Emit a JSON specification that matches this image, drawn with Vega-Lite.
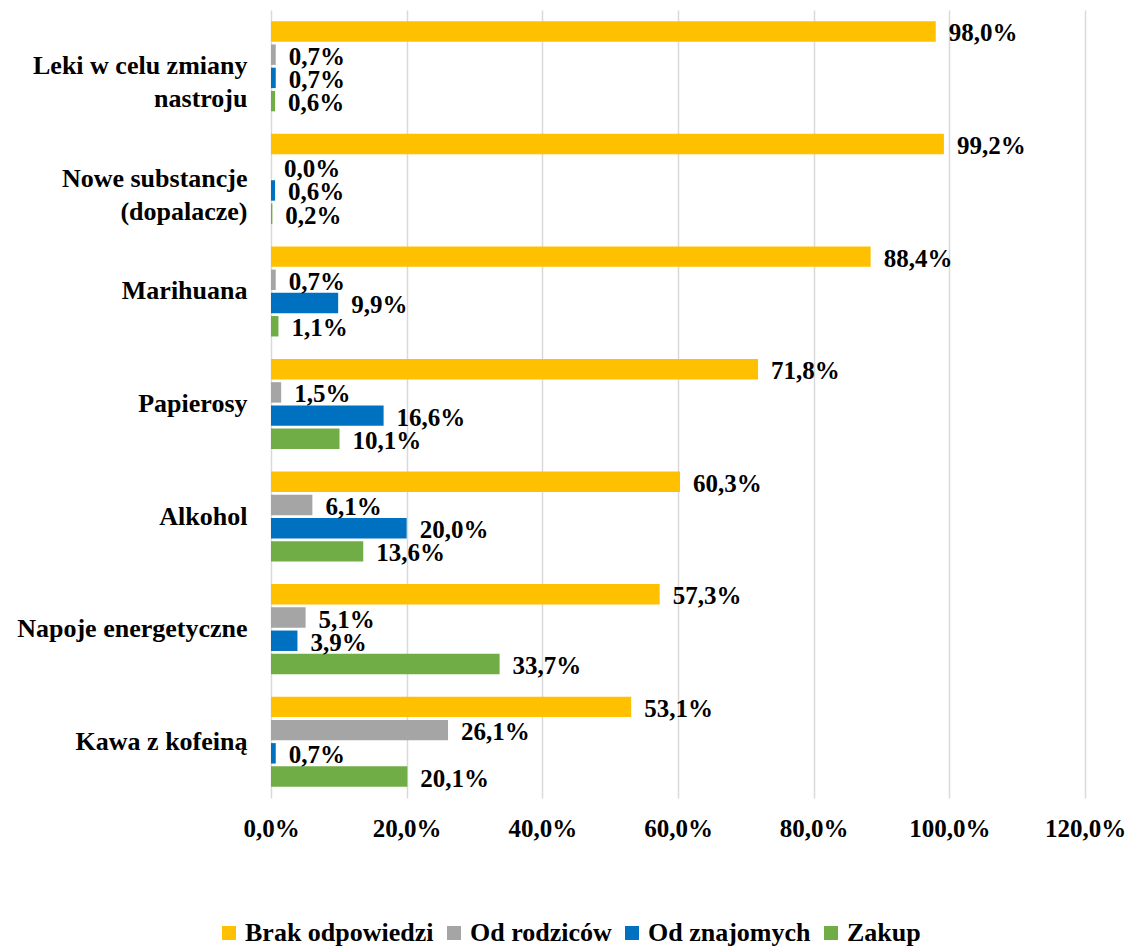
{
  "$schema": "https://vega.github.io/schema/vega-lite/v6.json",
  "autosize": "none",
  "width": 814,
  "height": 788,
  "padding": {"left": 271, "top": 10, "right": 42, "bottom": 148},
  "background": "white",
  "config": {
    "font": "Liberation Serif",
    "view": {"stroke": null},
    "axis": {"labelFont": "Liberation Serif", "labelFontWeight": "bold", "labelColor": "black", "labelFontSize": 25},
    "legend": {"labelFont": "Times New Roman, Liberation Serif, serif", "labelFontWeight": "bold", "labelColor": "black", "labelFontSize": 26}
  },
  "data": {
    "values": [
      {"cat": "Leki w celu zmiany|nastroju", "series": "Brak odpowiedzi", "v": 98.0},
      {"cat": "Leki w celu zmiany|nastroju", "series": "Od rodziców", "v": 0.7},
      {"cat": "Leki w celu zmiany|nastroju", "series": "Od znajomych", "v": 0.7},
      {"cat": "Leki w celu zmiany|nastroju", "series": "Zakup", "v": 0.6},
      {"cat": "Nowe substancje|(dopalacze)", "series": "Brak odpowiedzi", "v": 99.2},
      {"cat": "Nowe substancje|(dopalacze)", "series": "Od rodziców", "v": 0.0},
      {"cat": "Nowe substancje|(dopalacze)", "series": "Od znajomych", "v": 0.6},
      {"cat": "Nowe substancje|(dopalacze)", "series": "Zakup", "v": 0.2},
      {"cat": "Marihuana", "series": "Brak odpowiedzi", "v": 88.4},
      {"cat": "Marihuana", "series": "Od rodziców", "v": 0.7},
      {"cat": "Marihuana", "series": "Od znajomych", "v": 9.9},
      {"cat": "Marihuana", "series": "Zakup", "v": 1.1},
      {"cat": "Papierosy", "series": "Brak odpowiedzi", "v": 71.8},
      {"cat": "Papierosy", "series": "Od rodziców", "v": 1.5},
      {"cat": "Papierosy", "series": "Od znajomych", "v": 16.6},
      {"cat": "Papierosy", "series": "Zakup", "v": 10.1},
      {"cat": "Alkohol", "series": "Brak odpowiedzi", "v": 60.3},
      {"cat": "Alkohol", "series": "Od rodziców", "v": 6.1},
      {"cat": "Alkohol", "series": "Od znajomych", "v": 20.0},
      {"cat": "Alkohol", "series": "Zakup", "v": 13.6},
      {"cat": "Napoje energetyczne", "series": "Brak odpowiedzi", "v": 57.3},
      {"cat": "Napoje energetyczne", "series": "Od rodziców", "v": 5.1},
      {"cat": "Napoje energetyczne", "series": "Od znajomych", "v": 3.9},
      {"cat": "Napoje energetyczne", "series": "Zakup", "v": 33.7},
      {"cat": "Kawa z kofeiną", "series": "Brak odpowiedzi", "v": 53.1},
      {"cat": "Kawa z kofeiną", "series": "Od rodziców", "v": 26.1},
      {"cat": "Kawa z kofeiną", "series": "Od znajomych", "v": 0.7},
      {"cat": "Kawa z kofeiną", "series": "Zakup", "v": 20.1}
    ]
  },
  "transform": [
    {"calculate": "replace(format(datum.v, '.1f'), '.', ',') + '%'", "as": "lbl"}
  ],
  "encoding": {
    "y": {
      "field": "cat", "type": "nominal", "sort": null,
      "scale": {"paddingInner": 0.2, "paddingOuter": 0.1},
      "axis": {"title": null, "ticks": false, "domain": false, "labelPadding": 24, "labelExpr": "split(datum.value, '|')", "labelLineHeight": 33, "labelFontSize": 26, "labelLimit": 400}
    },
    "yOffset": {
      "field": "series", "type": "nominal",
      "sort": ["Brak odpowiedzi", "Od rodziców", "Od znajomych", "Zakup"],
      "scale": {"paddingInner": 0.12}
    },
    "x": {
      "field": "v", "type": "quantitative",
      "scale": {"domain": [0, 120], "nice": false},
      "axis": {"title": null, "values": [0, 20, 40, 60, 80, 100, 120], "labelExpr": "replace(format(datum.value, '.1f'), '.', ',') + '%'", "ticks": false, "domain": false, "grid": true, "gridColor": "#D9D9D9", "gridWidth": 1.5, "labelPadding": 18, "labelFontSize": 25, "labelFlush": false, "labelOverlap": false}
    }
  },
  "layer": [
    {
      "mark": {"type": "bar"},
      "encoding": {
        "color": {
          "field": "series", "type": "nominal",
          "scale": {"domain": ["Brak odpowiedzi", "Od rodziców", "Od znajomych", "Zakup"], "range": ["#FFC000", "#A5A5A5", "#0070C0", "#70AD47"]},
          "legend": {
            "title": null, "orient": "none", "direction": "horizontal", "columns": 4,
            "legendX": -55, "legendY": 910,
            "symbolType": "square", "symbolSize": 196, "symbolStrokeWidth": 0,
            "labelFont": "Times New Roman, Liberation Serif, serif", "labelFontWeight": "bold", "labelFontSize": 26, "labelColor": "black",
            "columnPadding": 7, "labelOffset": 3, "labelLimit": 400
          }
        }
      }
    },
    {
      "mark": {"type": "text", "align": "left", "baseline": "middle", "dx": 13, "dy": 2, "font": "Liberation Serif", "fontWeight": "bold", "fontSize": 25, "color": "black"},
      "encoding": {"text": {"field": "lbl"}}
    }
  ]
}
